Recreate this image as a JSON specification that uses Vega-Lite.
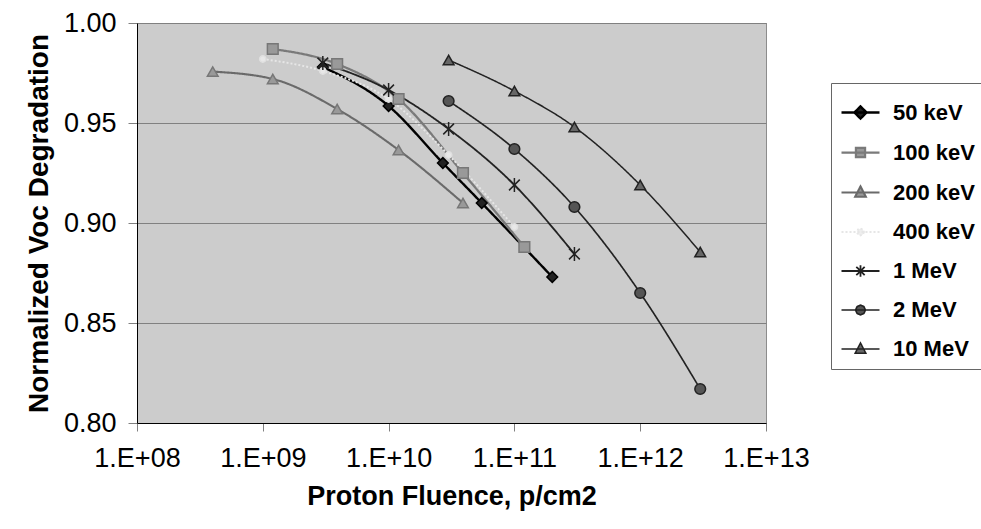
{
  "$schema": "https://vega.github.io/schema/vega-lite/v6.json",
  "width": 629,
  "height": 400,
  "autosize": {"type": "none"},
  "padding": {"left": 137, "top": 23, "right": 215, "bottom": 106},
  "background": "white",
  "config": {
    "font": "Liberation Sans",
    "view": {"fill": "#cccccc", "stroke": "#333333", "strokeDash": [1, 1]}
  },
  "data": {
    "values": [
      {"series": "50 keV", "fluence": 3.0e9, "voc": 0.978},
      {"series": "50 keV", "fluence": 1.0e10, "voc": 0.9585},
      {"series": "50 keV", "fluence": 2.7e10, "voc": 0.930},
      {"series": "50 keV", "fluence": 5.5e10, "voc": 0.910},
      {"series": "50 keV", "fluence": 2.0e11, "voc": 0.873},
      {"series": "100 keV", "fluence": 1.2e9, "voc": 0.987},
      {"series": "100 keV", "fluence": 3.9e9, "voc": 0.9795},
      {"series": "100 keV", "fluence": 1.2e10, "voc": 0.962},
      {"series": "100 keV", "fluence": 3.9e10, "voc": 0.925},
      {"series": "100 keV", "fluence": 1.2e11, "voc": 0.888},
      {"series": "200 keV", "fluence": 4.0e8, "voc": 0.9757},
      {"series": "200 keV", "fluence": 1.2e9, "voc": 0.972},
      {"series": "200 keV", "fluence": 3.9e9, "voc": 0.957},
      {"series": "200 keV", "fluence": 1.2e10, "voc": 0.9365},
      {"series": "200 keV", "fluence": 3.9e10, "voc": 0.910},
      {"series": "400 keV", "fluence": 1.0e9, "voc": 0.982},
      {"series": "400 keV", "fluence": 3.0e9, "voc": 0.976},
      {"series": "400 keV", "fluence": 1.0e10, "voc": 0.962},
      {"series": "400 keV", "fluence": 3.0e10, "voc": 0.934},
      {"series": "400 keV", "fluence": 1.0e11, "voc": 0.898},
      {"series": "1 MeV", "fluence": 3.0e9, "voc": 0.980},
      {"series": "1 MeV", "fluence": 1.0e10, "voc": 0.9665},
      {"series": "1 MeV", "fluence": 3.0e10, "voc": 0.947},
      {"series": "1 MeV", "fluence": 1.0e11, "voc": 0.919},
      {"series": "1 MeV", "fluence": 3.0e11, "voc": 0.8845},
      {"series": "2 MeV", "fluence": 3.0e10, "voc": 0.961},
      {"series": "2 MeV", "fluence": 1.0e11, "voc": 0.937},
      {"series": "2 MeV", "fluence": 3.0e11, "voc": 0.908},
      {"series": "2 MeV", "fluence": 1.0e12, "voc": 0.865},
      {"series": "2 MeV", "fluence": 3.0e12, "voc": 0.817},
      {"series": "10 MeV", "fluence": 3.0e10, "voc": 0.9815},
      {"series": "10 MeV", "fluence": 1.0e11, "voc": 0.966},
      {"series": "10 MeV", "fluence": 3.0e11, "voc": 0.948},
      {"series": "10 MeV", "fluence": 1.0e12, "voc": 0.919},
      {"series": "10 MeV", "fluence": 3.0e12, "voc": 0.8855}
    ]
  },
  "encoding": {
    "x": {
      "field": "fluence",
      "type": "quantitative",
      "scale": {"type": "log", "domain": [1e8, 1e13]},
      "axis": {
        "values": [1e8, 1e9, 1e10, 1e11, 1e12, 1e13],
        "labelExpr": "'1.E+' + (round(log(datum.value)/LN10) < 10 ? '0' : '') + round(log(datum.value)/LN10)",
        "title": "Proton Fluence, p/cm2",
        "grid": false,
        "domainColor": "#000000",
        "tickColor": "#808080",
        "tickSize": 8,
        "labelFontSize": 27,
        "labelColor": "#000000",
        "labelPadding": 14,
        "labelFlush": false,
        "labelOverlap": false,
        "titleFontSize": 27,
        "titleFontWeight": "bold",
        "titleColor": "#000000",
        "titlePadding": 12
      }
    },
    "y": {
      "field": "voc",
      "type": "quantitative",
      "scale": {"domain": [0.8, 1.0]},
      "axis": {
        "values": [0.8, 0.85, 0.9, 0.95, 1.0],
        "format": ".2f",
        "title": "Normalized Voc Degradation",
        "grid": true,
        "gridColor": "#808080",
        "gridOpacity": 1,
        "domainColor": "#000000",
        "tickColor": "#808080",
        "tickSize": 9,
        "labelFontSize": 27,
        "labelColor": "#000000",
        "labelPadding": 12,
        "labelFlush": false,
        "titleFontSize": 28,
        "titleFontWeight": "bold",
        "titleColor": "#000000",
        "titlePadding": 10
      }
    }
  },
  "layer": [
    {
      "mark": {"type": "line", "interpolate": "monotone"},
      "encoding": {
        "color": {
          "field": "series",
          "type": "nominal",
          "scale": {
            "domain": ["50 keV", "100 keV", "200 keV", "400 keV", "1 MeV", "2 MeV", "10 MeV"],
            "range": ["#000000", "#7a7a7a", "#6a6a6a", "#e6e6e6", "#222222", "#222222", "#222222"]
          },
          "legend": {
            "title": null,
            "orient": "none",
            "legendX": 694,
            "legendY": 60,
            "strokeColor": "#666666",
            "fillColor": "#ffffff",
            "padding": 9,
            "symbolSize": 1444,
            "labelFontSize": 22,
            "labelFontWeight": "bold",
            "labelColor": "#000000",
            "labelOffset": 12,
            "rowPadding": 8,
            "encode": {
              "symbols": {
                "update": {
                  "shape": {"signal": "datum.value === '50 keV' ? 'M-1,0L1,0M0,-0.32L0.32,0L0,0.32L-0.32,0Z' : datum.value === '100 keV' ? 'M-1,0L1,0M-0.24,-0.24L0.24,-0.24L0.24,0.24L-0.24,0.24Z' : datum.value === '400 keV' ? 'M-1,0L1,0M0.18,0L0.13,0.13L0,0.18L-0.13,0.13L-0.18,0L-0.13,-0.13L0,-0.18L0.13,-0.13Z' : datum.value === '1 MeV' ? 'M-1,0L1,0M-0.22,-0.22L0.22,0.22M-0.22,0.22L0.22,-0.22M0,-0.3L0,0.3' : datum.value === '2 MeV' ? 'M-1,0L1,0M0.26,0L0.18,0.18L0,0.26L-0.18,0.18L-0.26,0L-0.18,-0.18L0,-0.26L0.18,-0.18Z' : 'M-1,0L1,0M0,-0.32L0.28,0.22L-0.28,0.22Z'"},
                  "fill": {"signal": "datum.value === '50 keV' ? '#222222' : datum.value === '100 keV' || datum.value === '200 keV' ? '#999999' : datum.value === '400 keV' ? '#eeeeee' : datum.value === '1 MeV' ? '#333333' : datum.value === '2 MeV' ? '#555555' : '#666666'"},
                  "stroke": {"signal": "datum.value === '400 keV' ? '#aaaaaa' : datum.value === '100 keV' || datum.value === '200 keV' ? '#666666' : '#111111'"},
                  "strokeWidth": {"value": 1.5},
                  "strokeDash": {"signal": "datum.value === '400 keV' ? [1, 2] : [2, 1]"}
                }
              }
            }
          }
        },
        "strokeWidth": {
          "field": "series",
          "type": "nominal",
          "scale": {
            "domain": ["50 keV", "100 keV", "200 keV", "400 keV", "1 MeV", "2 MeV", "10 MeV"],
            "range": [2.4, 1.5, 1.5, 1.5, 1.8, 2, 2]
          },
          "legend": null
        },
        "strokeDash": {
          "field": "series",
          "type": "nominal",
          "scale": {
            "domain": ["50 keV", "100 keV", "200 keV", "400 keV", "1 MeV", "2 MeV", "10 MeV"],
            "range": [[1, 0], [1, 0], [1, 0], [2, 2], [1, 0], [1, 0], [1, 0]]
          },
          "legend": null
        }
      }
    },
    {
      "mark": {"type": "point", "filled": true, "opacity": 1, "strokeWidth": 1.5},
      "encoding": {
        "shape": {
          "condition": [
            {"test": "datum.series === '50 keV'", "value": "diamond"},
            {"test": "datum.series === '100 keV'", "value": "square"},
            {"test": "datum.series === '200 keV' || datum.series === '10 MeV'", "value": "triangle-up"},
            {"test": "datum.series === '1 MeV'", "value": "M-1,-1L1,1M-1,1L1,-1M0,-1.3L0,1.3"}
          ],
          "value": "circle"
        },
        "size": {
          "condition": [
            {"test": "datum.series === '400 keV'", "value": 40}
          ],
          "value": 115
        },
        "fill": {
          "condition": [
            {"test": "datum.series === '50 keV'", "value": "#222222"},
            {"test": "datum.series === '100 keV' || datum.series === '200 keV'", "value": "#999999"},
            {"test": "datum.series === '400 keV'", "value": "#e8e8e8"},
            {"test": "datum.series === '1 MeV'", "value": "#333333"},
            {"test": "datum.series === '2 MeV'", "value": "#555555"}
          ],
          "value": "#666666"
        },
        "stroke": {
          "condition": [
            {"test": "datum.series === '50 keV'", "value": "#000000"},
            {"test": "datum.series === '100 keV' || datum.series === '200 keV'", "value": "#777777"},
            {"test": "datum.series === '400 keV'", "value": "#e0e0e0"}
          ],
          "value": "#222222"
        }
      }
    }
  ]
}
